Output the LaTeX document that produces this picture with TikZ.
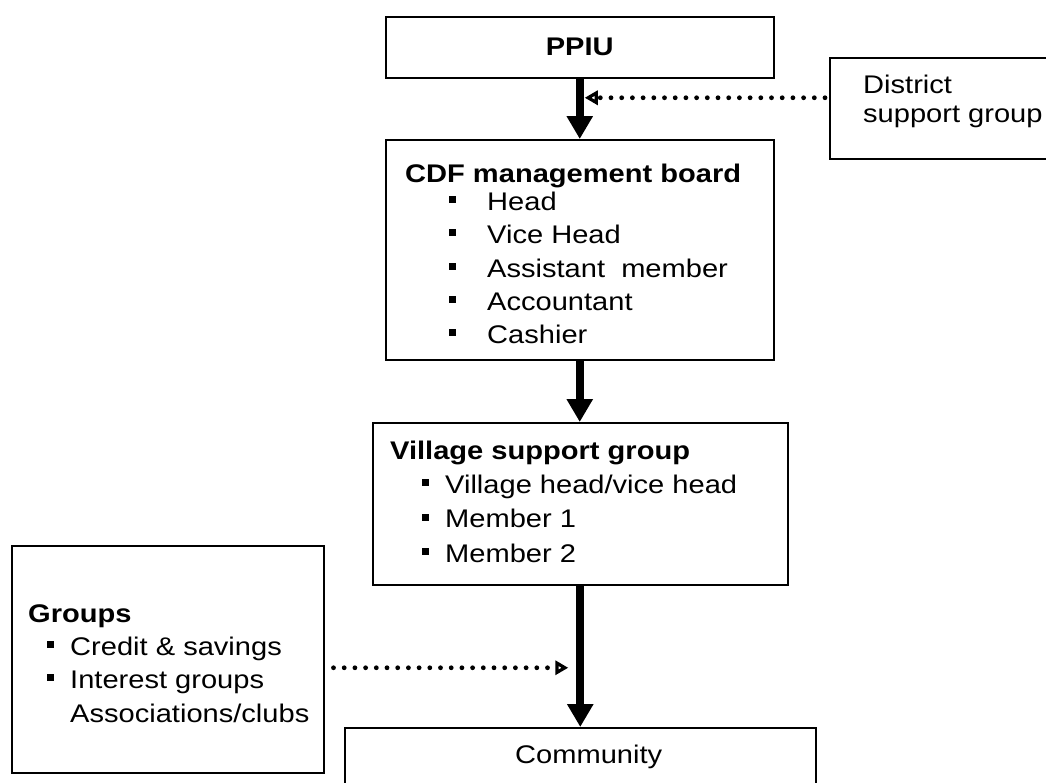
\documentclass[tikz,border=0pt]{standalone}
\usepackage{fontspec}
\setmainfont{Liberation Sans}[FakeStretch=1.14]
\usetikzlibrary{arrows.meta,calc}
\newcommand\sqbul{\rule[6.6pt]{7.2pt}{7.2pt}}
\begin{document}
\begin{tikzpicture}[x=1pt,y=-1pt,
  box/.style={draw, line width=1.5pt, rectangle, anchor=north west, inner sep=0pt},
  txt/.style={anchor=base west, inner sep=0pt, font=\fontsize{25.5}{33}\selectfont},
  ttl/.style={anchor=base west, inner sep=0pt, font=\fontsize{25.5}{33}\selectfont\bfseries},
  mainarrow/.style={line width=8pt, -{Triangle[width=25pt,length=23pt]}},
  dotarrow/.style={line width=4.8pt, line cap=round, dash pattern=on 0pt off 10.7pt,
    -{Triangle[open,width=14pt,length=13pt]}}]
\useasboundingbox (0,0) rectangle (1046,782);
\fill[white] (0,0) rectangle (1046,782);

% boxes
\node[box, minimum width=388pt, minimum height=61pt] (ppiu) at (385,16) {};
\node[box, minimum width=250pt, minimum height=101pt] (district) at (829,57) {};
\node[box, minimum width=388pt, minimum height=220pt] (cdf) at (385,139) {};
\node[box, minimum width=415pt, minimum height=162pt] (village) at (372,422) {};
\node[box, minimum width=312pt, minimum height=227pt] (groups) at (11,545) {};
\node[box, minimum width=471pt, minimum height=80pt] (community) at (344,727) {};

% texts
\node[ttl, anchor=center] (tppiu) at (ppiu.center) {PPIU};
\node[txt] (td1) at (863,93) {District};
\node[txt] (td2) at (863,122) {support group};

\node[ttl] (tc0) at (405,182) {CDF management board};
\node[txt] (tc1) at (487,210) {\llap{\sqbul\hspace{31.5pt}}Head};
\node[txt] (tc2) at (487,243) {\llap{\sqbul\hspace{31.5pt}}Vice Head};
\node[txt] (tc3) at (487,277) {\llap{\sqbul\hspace{31.5pt}}Assistant\ \ member};
\node[txt] (tc4) at (487,310) {\llap{\sqbul\hspace{31.5pt}}Accountant};
\node[txt] (tc5) at (487,343) {\llap{\sqbul\hspace{31.5pt}}Cashier};

\node[ttl] (tv0) at (390,459) {Village support group};
\node[txt] (tv1) at (445,493) {\llap{\sqbul\hspace{16pt}}Village head/vice head};
\node[txt] (tv2) at (445,527.5) {\llap{\sqbul\hspace{16pt}}Member 1};
\node[txt] (tv3) at (445,562) {\llap{\sqbul\hspace{16pt}}Member 2};

\node[ttl] (tg0) at (28,622) {Groups};
\node[txt] (tg1) at (70,655) {\llap{\sqbul\hspace{16pt}}Credit \& savings};
\node[txt] (tg2) at (70,688) {\llap{\sqbul\hspace{16pt}}Interest groups};
\node[txt] (tg3) at (70,722) {Associations/clubs};

\node[txt] (tcom) at (515,763) {Community};

% connectors
\draw[mainarrow] (ppiu.south) -- (cdf.north);
\draw[mainarrow] (cdf.south) -- (cdf.south |- village.north);
\draw[mainarrow] (village.south) -- (community.north);

\coordinate (d1) at ([xshift=-4pt,yshift=10.5pt]district.west);
\coordinate (d2) at ([xshift=5pt]ppiu.south |- d1);
\draw[dotarrow] (d1) -- (d2);

\coordinate (g1) at ([xshift=9pt,yshift=-8.5pt]groups.east);
\coordinate (g2) at ([xshift=-12pt]village.south |- g1);
\draw[dotarrow] (g1) -- (g2);
\end{tikzpicture}
\end{document}
